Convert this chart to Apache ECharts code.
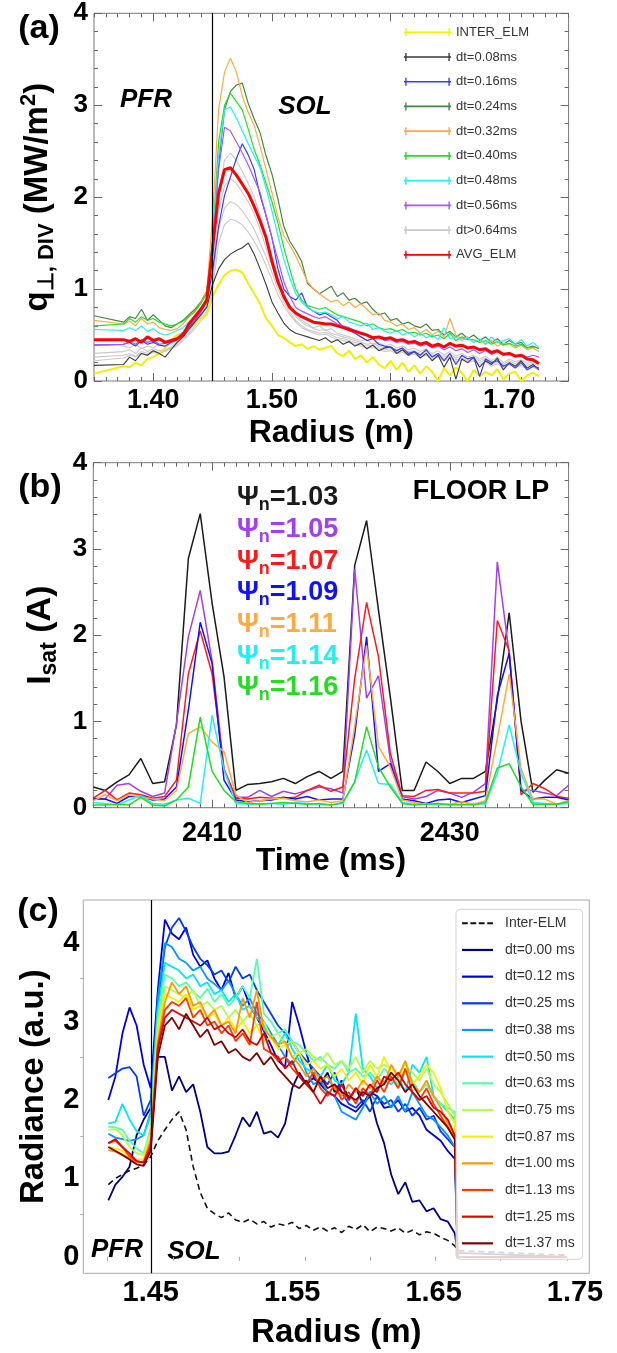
<!DOCTYPE html>
<html>
<head>
<meta charset="utf-8">
<script src="https://cdn.jsdelivr.net/npm/echarts@6/dist/echarts.min.js"></script>
<style>
  html, body { margin: 0; padding: 0; background: #fff; }
  #chart { width: 617px; height: 1353px; }
</style>
</head>
<body>
<div id="chart"></div>
<script>
// ---------- panel (a): divertor heat flux vs radius ----------
var radiusA = [
  1.350,1.375,1.380,1.385,1.390,1.395,1.400,1.405,1.410,1.415,
  1.420,1.425,1.430,1.435,1.440,1.445,1.450,1.455,1.460,1.465,
  1.470,1.475,1.480,1.485,1.490,1.495,1.500,1.505,1.510,1.515,
  1.520,1.525,1.530,1.535,1.540,1.545,1.550,1.555,1.560,1.565,
  1.570,1.575,1.580,1.585,1.590,1.595,1.600,1.605,1.610,1.615,
  1.620,1.625,1.630,1.635,1.640,1.645,1.650,1.655,1.660,1.665,
  1.670,1.675,1.680,1.685,1.690,1.695,1.700,1.705,1.710,1.715,
  1.720,1.725];
var qInterElm = [
  0.08,0.16,0.15,0.20,0.17,0.24,0.26,0.30,0.36,0.44,
  0.50,0.52,0.58,0.62,0.68,0.72,0.92,1.05,1.15,1.20,
  1.21,1.18,1.06,0.95,0.84,0.68,0.60,0.50,0.47,0.42,
  0.38,0.40,0.35,0.38,0.34,0.36,0.38,0.30,0.27,0.33,
  0.24,0.28,0.20,0.26,0.18,0.14,0.22,0.12,0.20,0.10,
  0.17,0.08,0.16,0.10,0.00,0.14,0.06,0.15,0.09,0.00,
  0.12,0.05,0.10,0.06,0.13,0.02,0.08,0.10,0.00,0.06,
  0.09,0.05];
var qDt008 = [
  0.17,0.18,0.26,0.22,0.30,0.28,0.33,0.30,0.26,0.34,
  0.42,0.48,0.56,0.64,0.72,0.80,1.05,1.22,1.32,1.38,
  1.42,1.45,1.50,1.38,1.22,1.05,0.86,0.74,0.63,0.56,
  0.52,0.50,0.48,0.46,0.44,0.47,0.42,0.45,0.40,0.43,
  0.38,0.41,0.35,0.39,0.33,0.36,0.37,0.30,0.34,0.28,
  0.32,0.25,0.30,0.22,0.28,0.15,0.26,0.02,0.24,0.20,
  0.26,0.15,0.22,0.18,0.25,0.12,0.20,0.16,0.22,0.14,
  0.18,0.12];
var qDt016 = [
  0.39,0.40,0.42,0.38,0.44,0.40,0.42,0.39,0.38,0.42,
  0.45,0.52,0.58,0.66,0.75,0.86,1.20,1.68,2.02,2.22,
  2.42,2.58,2.46,2.30,2.02,1.80,1.56,1.22,1.00,0.92,
  0.88,0.96,0.80,0.76,0.72,0.74,0.70,0.66,0.58,0.55,
  0.52,0.48,0.44,0.46,0.40,0.38,0.37,0.33,0.36,0.30,
  0.32,0.28,0.34,0.26,0.30,0.22,0.30,0.18,0.28,0.24,
  0.26,0.05,0.24,0.20,0.22,0.16,0.19,0.14,0.20,0.12,
  0.16,0.14];
var qDt024 = [
  0.71,0.64,0.70,0.68,0.78,0.66,0.72,0.66,0.60,0.58,
  0.62,0.66,0.72,0.78,0.86,0.98,1.50,2.35,2.95,3.15,
  3.22,3.24,3.02,2.85,2.70,2.45,2.25,1.98,1.68,1.52,
  1.42,1.30,1.06,1.00,0.95,0.99,1.03,0.92,0.96,0.88,
  0.90,0.84,0.86,0.78,0.72,0.74,0.66,0.68,0.62,0.64,
  0.60,0.58,0.62,0.55,0.56,0.50,0.54,0.48,0.52,0.46,
  0.50,0.44,0.48,0.42,0.46,0.40,0.44,0.40,0.42,0.36,
  0.38,0.35];
var qDt032 = [
  0.66,0.62,0.65,0.60,0.68,0.62,0.64,0.58,0.56,0.55,
  0.57,0.62,0.70,0.75,0.85,0.97,1.80,2.95,3.36,3.51,
  3.36,3.10,2.92,2.78,2.55,2.30,2.05,1.78,1.58,1.48,
  1.36,1.22,1.08,1.00,0.95,0.90,0.86,0.88,0.82,0.86,
  0.80,0.84,0.78,0.72,0.74,0.66,0.64,0.60,0.62,0.56,
  0.58,0.52,0.56,0.50,0.54,0.48,0.68,0.50,0.46,0.48,
  0.42,0.46,0.40,0.44,0.38,0.41,0.40,0.36,0.39,0.34,
  0.36,0.32];
var qDt040 = [
  0.60,0.62,0.68,0.64,0.70,0.66,0.68,0.64,0.62,0.60,
  0.62,0.65,0.70,0.76,0.84,0.95,1.55,2.60,3.00,3.13,
  3.04,2.95,2.74,2.52,2.35,2.15,1.95,1.72,1.45,1.22,
  1.00,0.88,0.82,0.80,0.78,0.80,0.76,0.72,0.70,0.68,
  0.66,0.64,0.60,0.62,0.58,0.56,0.57,0.54,0.56,0.52,
  0.53,0.50,0.52,0.48,0.50,0.46,0.52,0.44,0.48,0.45,
  0.45,0.42,0.44,0.40,0.43,0.39,0.41,0.38,0.40,0.36,
  0.37,0.36];
var qDt048 = [
  0.56,0.55,0.58,0.55,0.60,0.54,0.57,0.52,0.50,0.52,
  0.55,0.58,0.64,0.70,0.78,0.90,1.50,2.45,2.95,2.98,
  2.86,2.72,2.58,2.45,2.32,2.10,1.85,1.58,1.32,1.12,
  0.95,0.86,0.80,0.76,0.74,0.75,0.72,0.68,0.70,0.64,
  0.62,0.60,0.63,0.56,0.58,0.54,0.52,0.55,0.50,0.53,
  0.48,0.52,0.47,0.50,0.45,0.58,0.46,0.48,0.44,0.47,
  0.42,0.46,0.40,0.48,0.42,0.44,0.46,0.40,0.45,0.38,
  0.42,0.36];
var qDt056 = [
  0.39,0.40,0.43,0.40,0.45,0.42,0.44,0.40,0.41,0.43,
  0.47,0.53,0.60,0.67,0.76,0.88,1.45,2.30,2.76,2.72,
  2.60,2.48,2.35,2.20,2.05,1.80,1.55,1.32,1.08,0.92,
  0.80,0.76,0.73,0.70,0.68,0.70,0.66,0.62,0.60,0.58,
  0.55,0.52,0.50,0.48,0.47,0.44,0.45,0.42,0.43,0.40,
  0.41,0.38,0.40,0.36,0.38,0.34,0.37,0.33,0.35,0.31,
  0.34,0.30,0.33,0.29,0.32,0.28,0.30,0.27,0.29,0.26,
  0.28,0.26];
// the late (dt>0.64ms) profiles, all drawn light grey
var qLate1 = [
  0.40,0.38,0.36,0.40,0.35,0.38,0.36,0.40,0.37,0.40,
  0.44,0.50,0.57,0.64,0.72,0.82,1.35,2.05,2.40,2.48,
  2.40,2.28,2.15,2.00,1.80,1.58,1.36,1.12,0.95,0.82,
  0.72,0.66,0.62,0.58,0.60,0.55,0.57,0.52,0.50,0.48,
  0.46,0.44,0.45,0.40,0.42,0.38,0.40,0.36,0.38,0.34,
  0.36,0.32,0.35,0.30,0.33,0.28,0.32,0.27,0.30,0.26,
  0.28,0.24,0.27,0.22,0.26,0.20,0.24,0.21,0.23,0.19,
  0.21,0.18];
var qLate2 = [
  0.30,0.32,0.34,0.30,0.36,0.32,0.35,0.33,0.34,0.37,
  0.42,0.48,0.55,0.62,0.70,0.80,1.20,1.85,2.12,2.20,
  2.15,2.05,1.95,1.82,1.65,1.45,1.25,1.05,0.90,0.78,
  0.70,0.64,0.60,0.57,0.55,0.56,0.52,0.50,0.48,0.46,
  0.44,0.42,0.40,0.41,0.38,0.36,0.37,0.34,0.35,0.32,
  0.33,0.30,0.32,0.28,0.30,0.26,0.29,0.25,0.27,0.24,
  0.26,0.22,0.25,0.20,0.23,0.18,0.22,0.19,0.21,0.17,
  0.19,0.16];
var qLate3 = [
  0.26,0.28,0.30,0.27,0.32,0.30,0.33,0.31,0.33,0.36,
  0.40,0.46,0.52,0.60,0.68,0.76,1.10,1.65,1.88,1.95,
  1.92,1.85,1.76,1.65,1.50,1.35,1.18,1.00,0.86,0.75,
  0.66,0.60,0.56,0.54,0.52,0.53,0.50,0.47,0.46,0.44,
  0.42,0.40,0.38,0.39,0.36,0.34,0.35,0.32,0.33,0.30,
  0.31,0.28,0.30,0.26,0.28,0.24,0.27,0.23,0.25,0.22,
  0.24,0.20,0.23,0.18,0.21,0.16,0.20,0.17,0.19,0.15,
  0.17,0.14];
var qLate4 = [
  0.22,0.25,0.28,0.26,0.30,0.28,0.31,0.30,0.32,0.35,
  0.38,0.44,0.50,0.57,0.65,0.73,1.00,1.50,1.70,1.76,
  1.74,1.70,1.62,1.52,1.40,1.26,1.10,0.94,0.82,0.72,
  0.64,0.58,0.55,0.52,0.50,0.51,0.48,0.45,0.44,0.42,
  0.40,0.38,0.36,0.37,0.34,0.32,0.33,0.30,0.31,0.28,
  0.29,0.26,0.28,0.24,0.26,0.22,0.25,0.21,0.23,0.20,
  0.22,0.18,0.21,0.16,0.19,0.14,0.18,0.15,0.17,0.13,
  0.15,0.12];
var qAvgElm = [
  0.45,0.45,0.43,0.46,0.42,0.48,0.44,0.46,0.42,0.44,
  0.46,0.50,0.62,0.70,0.78,0.88,1.45,2.04,2.30,2.32,
  2.24,2.14,2.04,1.90,1.74,1.56,1.30,1.08,0.92,0.80,
  0.74,0.70,0.67,0.64,0.63,0.62,0.62,0.60,0.58,0.56,
  0.54,0.52,0.50,0.47,0.48,0.46,0.47,0.44,0.45,0.42,
  0.43,0.40,0.42,0.38,0.40,0.37,0.41,0.38,0.39,0.36,
  0.37,0.34,0.35,0.31,0.33,0.29,0.30,0.27,0.28,0.24,
  0.23,0.19];
var sepA = 1.448;
var ticksA = [1.40, 1.50, 1.60, 1.70];

// ---------- panel (b): floor Langmuir probe Isat vs time ----------
var timeB = [
  2400,2401,2402,2403,2404,2405,2406,2407,2408,2409,
  2410,2411,2412,2413,2414,2415,2416,2417,2418,2419,
  2420,2421,2422,2423,2424,2425,2426,2427,2428,2429,
  2430,2431,2432,2433,2434,2435,2436,2437,2438,2439,
  2440];
var isat103 = [
  0.24,0.20,0.30,0.38,0.57,0.28,0.30,0.96,2.89,3.41,
  2.37,1.52,0.20,0.27,0.28,0.30,0.34,0.28,0.36,0.42,
  0.34,0.42,2.81,3.33,2.29,1.28,0.20,0.20,0.53,0.42,
  0.28,0.34,0.34,0.42,1.25,2.26,1.00,0.18,0.32,0.44,
  0.40];
var isat105 = [
  0.11,0.10,0.26,0.28,0.19,0.13,0.17,0.98,1.98,2.52,
  1.70,0.45,0.12,0.12,0.20,0.13,0.19,0.16,0.20,0.24,
  0.22,0.17,2.77,1.27,1.53,0.55,0.13,0.10,0.13,0.20,
  0.17,0.12,0.18,0.28,2.85,1.79,0.20,0.20,0.17,0.14,
  0.26];
var isat107 = [
  0.11,0.20,0.09,0.17,0.15,0.11,0.13,0.32,1.55,2.05,
  1.55,0.44,0.11,0.10,0.12,0.11,0.11,0.12,0.20,0.26,
  0.19,0.24,1.50,2.38,1.75,0.63,0.14,0.13,0.20,0.21,
  0.17,0.17,0.17,0.19,2.17,1.82,0.15,0.28,0.22,0.13,
  0.11];
var isat109 = [
  0.10,0.10,0.05,0.13,0.13,0.09,0.10,0.24,1.13,2.15,
  1.67,0.32,0.09,0.07,0.08,0.09,0.12,0.10,0.13,0.09,
  0.10,0.10,0.85,1.98,0.42,0.51,0.10,0.08,0.05,0.09,
  0.10,0.06,0.10,0.14,1.30,1.79,0.20,0.10,0.12,0.12,
  0.09];
var isat111 = [
  0.08,0.15,0.08,0.15,0.12,0.10,0.08,0.20,0.86,0.94,
  0.76,0.65,0.15,0.06,0.08,0.10,0.11,0.08,0.07,0.09,
  0.06,0.08,0.95,1.88,0.71,0.47,0.09,0.06,0.04,0.05,
  0.04,0.07,0.04,0.08,0.80,1.55,0.45,0.10,0.10,0.04,
  0.08];
var isat114 = [
  0.06,0.05,0.03,0.09,0.14,0.05,0.04,0.09,0.11,0.05,
  1.07,0.44,0.05,0.04,0.05,0.05,0.04,0.06,0.05,0.04,
  0.03,0.05,0.30,0.67,0.28,0.27,0.06,0.04,0.05,0.03,
  0.04,0.03,0.05,0.04,0.40,0.96,0.40,0.06,0.05,0.04,
  0.05];
var isat116 = [
  0.03,0.03,0.04,0.03,0.12,0.03,0.02,0.09,0.24,1.05,
  0.42,0.20,0.07,0.05,0.04,0.05,0.06,0.05,0.04,0.05,
  0.03,0.06,0.30,0.94,0.47,0.24,0.05,0.03,0.04,0.05,
  0.03,0.04,0.03,0.06,0.46,0.51,0.24,0.04,0.04,0.04,
  0.07];
var psiLabels = ['1.03', '1.05', '1.07', '1.09', '1.11', '1.14', '1.16'];
var ticksB = [2410, 2430];

// ---------- panel (c): radiance vs radius ----------
var radiusC = [
  1.420,1.425,1.430,1.435,1.440,1.445,1.450,1.455,1.460,1.465,
  1.470,1.475,1.480,1.485,1.490,1.495,1.500,1.505,1.510,1.515,
  1.520,1.525,1.530,1.535,1.540,1.545,1.550,1.555,1.560,1.565,
  1.570,1.575,1.580,1.585,1.590,1.595,1.600,1.605,1.610,1.615,
  1.620,1.625,1.630,1.635,1.640,1.645,1.650,1.655,1.660,1.665,
  1.667,1.744];
var radInterElm = [
  0.92,1.00,1.05,1.10,1.13,1.17,1.28,1.48,1.62,1.75,
  1.85,1.62,1.15,0.82,0.62,0.55,0.50,0.56,0.47,0.44,
  0.48,0.42,0.45,0.38,0.42,0.40,0.44,0.36,0.40,0.34,
  0.38,0.33,0.37,0.31,0.39,0.35,0.41,0.32,0.38,0.36,
  0.33,0.37,0.30,0.34,0.28,0.32,0.30,0.25,0.21,0.14,
  0.08,0.02];
var rad000 = [
  0.72,0.92,1.02,1.15,1.55,1.75,1.90,2.55,2.55,2.12,
  2.30,2.10,2.20,1.85,1.40,1.32,1.32,1.34,1.55,1.78,
  1.66,1.85,1.57,1.60,1.52,1.70,2.15,2.35,2.20,2.28,
  2.20,2.35,2.10,2.25,2.00,2.15,1.95,2.05,1.70,1.45,
  1.05,0.80,0.95,0.70,0.72,0.58,0.62,0.48,0.45,0.30,
  0.05,0.00];
var rad012 = [
  2.00,2.30,2.85,3.18,2.95,2.45,2.15,3.40,4.30,4.12,
  4.05,4.20,3.85,3.70,3.78,3.55,3.40,3.62,3.30,3.45,
  3.20,3.05,2.88,2.70,2.50,2.42,3.25,2.95,2.60,2.30,
  2.20,2.10,2.05,1.95,1.90,1.85,1.95,2.10,2.05,1.90,
  1.92,2.00,1.85,1.90,1.80,1.62,1.55,1.48,1.35,1.25,
  0.00,0.00];
var rad025 = [
  2.28,2.34,2.40,2.42,2.30,1.80,2.00,3.20,3.95,4.20,
  4.32,4.15,3.95,3.80,3.72,3.60,3.65,3.50,3.70,3.55,
  3.60,3.40,3.25,3.10,2.95,2.85,2.75,2.60,2.50,2.40,
  2.30,2.20,2.35,2.10,1.95,1.90,2.00,1.85,2.05,1.95,
  2.00,1.85,1.95,1.80,1.90,1.75,1.80,1.60,1.50,1.40,
  0.00,0.00];
var rad038 = [
  1.57,1.52,1.50,1.48,1.50,1.55,1.85,3.30,4.00,3.95,
  3.80,3.75,3.65,3.70,3.55,3.48,3.40,3.52,3.35,3.20,
  3.30,3.10,3.00,2.85,2.70,2.55,2.45,2.60,2.35,2.20,
  2.25,2.10,2.05,1.85,1.80,1.75,1.90,2.10,1.95,2.05,
  1.90,2.05,1.85,2.10,1.95,1.80,1.75,1.65,1.55,1.40,
  0.00,0.00];
var rad050 = [
  1.70,1.72,1.95,1.75,1.60,1.55,1.80,3.15,3.75,3.70,
  3.65,3.55,3.60,3.45,3.50,3.35,3.40,3.25,3.35,3.15,
  3.20,3.05,2.95,2.80,2.70,2.85,2.65,2.50,2.40,2.35,
  2.30,2.45,2.25,2.20,2.35,3.10,2.40,2.30,2.15,2.25,
  2.20,2.30,2.10,2.45,2.35,2.55,2.05,1.95,1.85,1.75,
  0.00,0.00];
var rad063 = [
  1.66,1.65,1.62,1.48,1.38,1.32,1.65,3.05,3.60,3.55,
  3.45,3.50,3.38,3.30,3.42,3.25,3.35,3.20,3.30,3.45,
  3.30,3.80,3.10,3.00,2.85,2.90,2.75,2.70,2.60,2.50,
  2.55,2.45,2.40,2.50,2.35,2.40,2.30,2.35,2.25,2.40,
  2.30,2.20,2.35,2.25,2.10,2.20,2.05,1.95,1.90,1.85,
  0.00,0.00];
var rad075 = [
  1.62,1.63,1.55,1.40,1.32,1.30,1.60,2.95,3.45,3.40,
  3.35,3.30,3.40,3.20,3.25,3.15,3.20,3.05,3.15,3.00,
  3.10,2.95,3.00,2.80,2.85,2.70,2.75,2.60,2.65,2.55,
  2.50,2.60,2.45,2.50,2.40,2.55,2.35,2.50,2.40,2.45,
  2.40,2.30,2.45,2.35,2.25,2.40,2.20,2.10,1.95,1.80,
  0.00,0.00];
var rad087 = [
  1.40,1.38,1.35,1.28,1.24,1.25,1.55,2.85,3.35,3.30,
  3.25,3.35,3.15,3.20,3.05,3.10,2.95,3.05,2.90,3.00,
  2.85,2.95,2.75,2.80,2.65,2.70,2.55,2.60,2.45,2.50,
  2.40,2.45,2.30,2.40,2.25,2.35,2.20,2.45,2.30,2.55,
  2.35,2.25,2.40,2.20,2.30,2.45,2.35,2.15,1.85,1.70,
  0.00,0.00];
var rad100 = [
  1.36,1.34,1.30,1.26,1.20,1.22,1.50,2.75,3.25,3.50,
  3.35,3.45,3.20,3.25,3.05,3.15,2.95,3.00,2.85,3.30,
  3.05,3.40,2.90,2.80,2.70,2.75,2.55,2.45,2.30,2.40,
  2.25,2.30,2.15,2.05,2.20,2.10,2.25,2.15,2.30,2.20,
  2.45,2.30,2.50,2.20,2.10,2.25,2.05,1.90,1.70,1.55,
  0.00,0.00];
var rad113 = [
  1.45,1.48,1.40,1.28,1.22,1.20,1.45,2.70,3.15,3.25,
  3.20,3.30,3.05,3.15,2.95,3.00,2.85,2.95,2.75,2.85,
  2.70,3.25,2.65,2.60,2.50,2.55,2.40,2.30,2.20,2.35,
  2.15,2.05,2.20,2.00,2.10,1.95,2.15,2.05,2.25,2.10,
  2.30,2.15,2.40,2.10,2.00,2.15,1.95,1.80,1.65,1.50,
  0.00,0.00];
var rad125 = [
  1.45,1.50,1.40,1.32,1.22,1.20,1.40,2.65,3.05,3.15,
  3.10,3.05,3.00,2.95,3.05,2.90,2.95,2.85,2.80,2.90,
  2.75,2.70,2.85,2.60,2.55,2.40,2.50,2.30,2.20,2.10,
  1.95,2.10,2.05,2.20,2.00,2.15,2.05,2.20,2.10,2.30,
  2.25,2.35,2.20,2.10,2.00,2.05,1.90,1.85,1.75,1.55,
  0.00,0.00];
var rad137 = [
  1.40,1.35,1.30,1.24,1.18,1.16,1.35,2.55,2.95,3.05,
  2.90,3.10,2.95,2.80,2.90,2.70,2.75,2.60,2.65,2.55,
  2.50,2.60,2.45,2.55,2.40,2.30,2.20,2.15,2.25,2.10,
  2.30,2.15,2.20,2.10,2.05,2.00,2.10,2.05,2.15,2.20,
  2.35,2.25,2.10,2.20,2.05,1.95,1.85,1.75,1.65,1.50,
  0.00,0.00];
var sepC = 1.4535;
var labelsC = [1.45, 1.55, 1.65, 1.75];
var ticksC = [1.4189, 1.466, 1.5124, 1.5591, 1.605, 1.651, 1.697, 1.7442];
var yTicksC = [0.54, 1.54, 2.55, 3.55];

var FONT = "'Liberation Sans', Arial, Helvetica, sans-serif";
var TICK = '#666';

function xy(xs, ys) {
  return xs.map(function (x, i) { return [x, ys[i]]; });
}

function line(name, xs, ys, color, width, xi, yi, extra) {
  var s = {
    type: 'line', name: name, data: xy(xs, ys),
    xAxisIndex: xi, yAxisIndex: yi,
    symbol: 'none', showSymbol: false, silent: true,
    animation: false,
    lineStyle: { color: color, width: width },
    itemStyle: { color: color },
    emphasis: { disabled: true }
  };
  if (extra) { for (var k in extra) s[k] = extra[k]; }
  return s;
}

function sepLine(x) {
  return {
    silent: true, symbol: ['none', 'none'], animation: false,
    label: { show: false },
    lineStyle: { color: '#000', width: 1.2, type: 'solid' },
    data: [{ xAxis: x }]
  };
}

function boldText(size) {
  return { fontFamily: FONT, fontWeight: 'bold', fontSize: size, color: '#000' };
}

// minor tick axis (no labels) for the IDL style boxes
function minorX(grid, pos, min, max, interval) {
  return {
    gridIndex: grid, type: 'value', position: pos, min: min, max: max, interval: interval,
    axisLine: { show: false }, splitLine: { show: false }, axisLabel: { show: false },
    axisTick: { inside: true, length: 4, lineStyle: { color: TICK } }
  };
}

function majorX(grid, pos, min, max, ticks, withLabel, labelMargin) {
  return {
    gridIndex: grid, type: 'value', position: pos, min: min, max: max,
    axisLine: { show: false }, splitLine: { show: false },
    axisTick: { inside: true, length: 8, customValues: ticks, lineStyle: { color: TICK } },
    axisLabel: withLabel ? Object.assign({ customValues: ticks, margin: labelMargin }, boldText(27)) : { show: false }
  };
}

function boxY(grid, pos, withLabel) {
  return {
    gridIndex: grid, type: 'value', position: pos, min: 0, max: 4, interval: 1,
    axisLine: { show: false }, splitLine: { show: false },
    axisTick: { inside: true, length: 8, lineStyle: { color: TICK } },
    minorTick: { show: true, splitNumber: 5, length: 4, lineStyle: { color: TICK } },
    axisLabel: withLabel ? Object.assign({ margin: 6 }, boldText(26)) : { show: false }
  };
}

// x axes
var xAxes = [];
var xa = majorX(0, 'bottom', 1.35, 1.75, ticksA, true, 6);
xa.axisLabel.formatter = function (v) { return v.toFixed(2); };
xa.name = 'Radius (m)'; xa.nameLocation = 'middle'; xa.nameGap = 36;
xa.nameTextStyle = boldText(32); xa.nameMoveOverlap = false;
xAxes.push(xa);
xAxes.push(minorX(0, 'bottom', 1.35, 1.75, 0.01));
xAxes.push(majorX(0, 'top', 1.35, 1.75, ticksA, false));
xAxes.push(minorX(0, 'top', 1.35, 1.75, 0.01));
var xb = majorX(1, 'bottom', 2400, 2440, ticksB, true, 12);
xb.axisLabel.formatter = function (v) { return String(Math.round(v)); };
xb.name = 'Time (ms)'; xb.nameLocation = 'middle'; xb.nameGap = 37;
xb.nameTextStyle = boldText(32); xb.nameMoveOverlap = false;
xAxes.push(xb);
xAxes.push(minorX(1, 'bottom', 2400, 2440, 1));
xAxes.push(majorX(1, 'top', 2400, 2440, ticksB, false));
xAxes.push(minorX(1, 'top', 2400, 2440, 1));
xAxes.push({
  gridIndex: 2, type: 'value', position: 'bottom', min: 1.4023, max: 1.7601,
  axisLine: { show: false }, splitLine: { show: false },
  axisTick: { show: true, inside: false, length: 4, customValues: ticksC, lineStyle: { color: '#aaa' } },
  axisLabel: Object.assign({ customValues: labelsC, margin: 5,
    formatter: function (v) { return v.toFixed(2); } }, boldText(29)),
  name: 'Radius (m)', nameLocation: 'middle', nameGap: 43, nameMoveOverlap: false,
  nameTextStyle: boldText(33)
});

// y axes
var yAxes = [];
var ya = boxY(0, 'left', true);
ya.name = '{m|q}{s|⊥, DIV}{m| (MW/m}{p|2}{m|)}';
ya.nameLocation = 'middle'; ya.nameRotate = 90; ya.nameGap = 36; ya.nameMoveOverlap = false;
ya.nameTextStyle = {
  fontFamily: FONT, fontWeight: 'bold', fontSize: 33, color: '#000',
  rich: {
    m: { fontFamily: FONT, fontWeight: 'bold', fontSize: 33, lineHeight: 40 },
    s: { fontFamily: FONT, fontWeight: 'bold', fontSize: 22, lineHeight: 18, verticalAlign: 'bottom' },
    p: { fontFamily: FONT, fontWeight: 'bold', fontSize: 22, lineHeight: 18, verticalAlign: 'top' }
  }
};
yAxes.push(ya);
yAxes.push(boxY(0, 'right', false));
var yb = boxY(1, 'left', true);
yb.name = '{m|I}{s|sat}{m| (A)}';
yb.nameLocation = 'middle'; yb.nameRotate = 90; yb.nameGap = 32; yb.nameMoveOverlap = false;
yb.nameTextStyle = {
  fontFamily: FONT, fontWeight: 'bold', fontSize: 34, color: '#000',
  rich: {
    m: { fontFamily: FONT, fontWeight: 'bold', fontSize: 34, lineHeight: 42 },
    s: { fontFamily: FONT, fontWeight: 'bold', fontSize: 23, lineHeight: 18, verticalAlign: 'bottom' }
  }
};
yAxes.push(yb);
yAxes.push(boxY(1, 'right', false));
yAxes.push({
  gridIndex: 2, type: 'value', position: 'left', min: -0.21, max: 4.55,
  axisLine: { show: false }, splitLine: { show: false },
  axisTick: { show: true, inside: false, length: 3, customValues: yTicksC, lineStyle: { color: '#aaa' } },
  axisLabel: Object.assign({ customValues: [0, 1, 2, 3, 4], margin: 4 }, boldText(29)),
  name: 'Radiance (a.u.)', nameLocation: 'middle', nameRotate: 90, nameGap: 33,
  nameMoveOverlap: false, nameTextStyle: boldText(33)
});

// series
var series = [];
[qLate1, qLate2, qLate3, qLate4].forEach(function (ys) {
  series.push(line('dt>0.64ms', radiusA, ys, '#c9c9c9', 1.1, 0, 0));
});
series.push(line('INTER_ELM', radiusA, qInterElm, '#f5ee00', 2, 0, 0));
series.push(line('dt=0.08ms', radiusA, qDt008, '#3a3a3a', 1.1, 0, 0));
series.push(line('dt=0.16ms', radiusA, qDt016, '#3b3bff', 1.2, 0, 0));
series.push(line('dt=0.24ms', radiusA, qDt024, '#3f8a3f', 1.2, 0, 0));
series.push(line('dt=0.32ms', radiusA, qDt032, '#ffaa44', 1.2, 0, 0));
series.push(line('dt=0.40ms', radiusA, qDt040, '#22dd22', 1.2, 0, 0));
series.push(line('dt=0.48ms', radiusA, qDt048, '#22eeff', 1.2, 0, 0));
series.push(line('dt=0.56ms', radiusA, qDt056, '#aa55ff', 1.2, 0, 0));
series.push(line('AVG_ELM', radiusA, qAvgElm, '#ff0000', 3, 0, 0, { markLine: sepLine(sepA) }));

var isatSets = [isat103, isat105, isat107, isat109, isat111, isat114, isat116];
var colorsB = ['#1a1a1a', '#a040f0', '#ff1a1a', '#1010ff', '#ffaa40', '#22f0f0', '#22dd22'];
isatSets.forEach(function (ys, i) {
  series.push(line('Ψn=' + psiLabels[i], timeB, ys, colorsB[i], 1.5, 4, 2));
});

var radSets = [rad000, rad012, rad025, rad038, rad050, rad063, rad075, rad087, rad100, rad113, rad125, rad137];
var namesC = ['dt=0.00 ms', 'dt=0.12 ms', 'dt=0.25 ms', 'dt=0.38 ms', 'dt=0.50 ms', 'dt=0.63 ms',
  'dt=0.75 ms', 'dt=0.87 ms', 'dt=1.00 ms', 'dt=1.13 ms', 'dt=1.25 ms', 'dt=1.37 ms'];
var colorsC = ['#000080', '#0000dc', '#003aff', '#0097ff', '#00e8f4', '#51ffae',
  '#aeff51', '#f4f000', '#ff9700', '#ff3a00', '#dc0000', '#800000'];
series.push(line('Inter-ELM', radiusC, radInterElm, '#111', 1.6, 8, 4,
  { lineStyle: { color: '#111', width: 1.6, type: [6, 4] } }));
radSets.forEach(function (ys, i) {
  var extra = i === radSets.length - 1 ? { markLine: sepLine(sepC) } : null;
  series.push(line(namesC[i], radiusC, ys, colorsC[i], 1.8, 8, 4, extra));
});

var ICON_A = 'path://M0,5.2h47v1.6h-47z M1.2,2h1.4v8h-1.4z M44.4,2h1.4v8h-1.4z';
var ICON_SOLID = 'path://M0,0h31v2.2h-31z';
var ICON_DASH = 'path://M0,0h5.8v2h-5.8z M8.4,0h5.8v2h-5.8z M16.8,0h5.8v2h-5.8z M25.2,0h5.8v2h-5.8z';

var namesA = ['INTER_ELM', 'dt=0.08ms', 'dt=0.16ms', 'dt=0.24ms', 'dt=0.32ms',
  'dt=0.40ms', 'dt=0.48ms', 'dt=0.56ms', 'dt>0.64ms', 'AVG_ELM'];

var legendC = [{ name: 'Inter-ELM', icon: ICON_DASH }].concat(namesC.map(function (n) {
  return { name: n, icon: ICON_SOLID };
}));

function psiRow(i, y) {
  return {
    type: 'text', x: 237, y: y, silent: true,
    style: {
      text: '{a|Ψ}{b|n}{a|=' + psiLabels[i] + '}',
      fill: colorsB[i], align: 'left', verticalAlign: 'middle',
      rich: {
        a: { fontFamily: FONT, fontWeight: 'bold', fontSize: 27, lineHeight: 32, fill: colorsB[i] },
        b: { fontFamily: FONT, fontWeight: 'bold', fontSize: 18, lineHeight: 14, verticalAlign: 'bottom', fill: colorsB[i] }
      }
    }
  };
}

function label(x, y, text, font) {
  return {
    type: 'text', x: x, y: y, silent: true,
    style: { text: text, font: font, fill: '#000', align: 'center', verticalAlign: 'middle' }
  };
}

var graphics = [
  label(39, 29, '(a)', 'bold 34px ' + FONT),
  label(40, 488, '(b)', 'bold 34px ' + FONT),
  label(38, 912, '(c)', 'bold 34px ' + FONT),
  label(146, 100, 'PFR', 'italic bold 26px ' + FONT),
  label(305, 107, 'SOL', 'italic bold 26px ' + FONT),
  label(481, 492, 'FLOOR LP', 'bold 27px ' + FONT),
  label(117, 1250, 'PFR', 'italic bold 26px ' + FONT),
  label(194, 1252, 'SOL', 'italic bold 26px ' + FONT)
];
var psiY = [498, 530, 562, 593, 625, 657, 688];
psiY.forEach(function (y, i) { graphics.push(psiRow(i, y)); });

var option = {
  animation: false,
  backgroundColor: '#fff',
  grid: [
    { left: 94, top: 13.3, width: 474.6, height: 367.7, show: true, borderColor: '#777', borderWidth: 1, outerBoundsMode: 'none' },
    { left: 93.3, top: 462.7, width: 475.3, height: 345, show: true, borderColor: '#777', borderWidth: 1, outerBoundsMode: 'none' },
    { left: 83.3, top: 900, width: 506, height: 373.3, show: true, borderColor: '#aaa', borderWidth: 1, outerBoundsMode: 'none' }
  ],
  xAxis: xAxes,
  yAxis: yAxes,
  legend: [
    {
      data: namesA, orient: 'vertical', left: 404, top: 25.7, padding: 0,
      itemWidth: 47, itemHeight: 12, itemGap: 11.74, icon: ICON_A,
      selectedMode: false, itemStyle: { borderWidth: 0 },
      textStyle: { fontFamily: FONT, fontSize: 13, color: '#333', lineHeight: 12 }
    },
    {
      data: legendC, orient: 'vertical', left: 456, top: 909.3, padding: [7, 8, 9, 6],
      itemWidth: 31, itemHeight: 14, itemGap: 12.67,
      selectedMode: false, itemStyle: { borderWidth: 0 },
      backgroundColor: 'rgba(255,255,255,0.82)', borderColor: '#d4d4d4', borderWidth: 1, borderRadius: 4,
      textStyle: { fontFamily: FONT, fontSize: 14, color: '#333', lineHeight: 14, padding: [0, 0, 0, 7] }
    }
  ],
  graphic: graphics,
  series: series
};

var chart = echarts.init(document.getElementById('chart'), null, { renderer: 'canvas' });
chart.setOption(option);
</script>
</body>
</html>
